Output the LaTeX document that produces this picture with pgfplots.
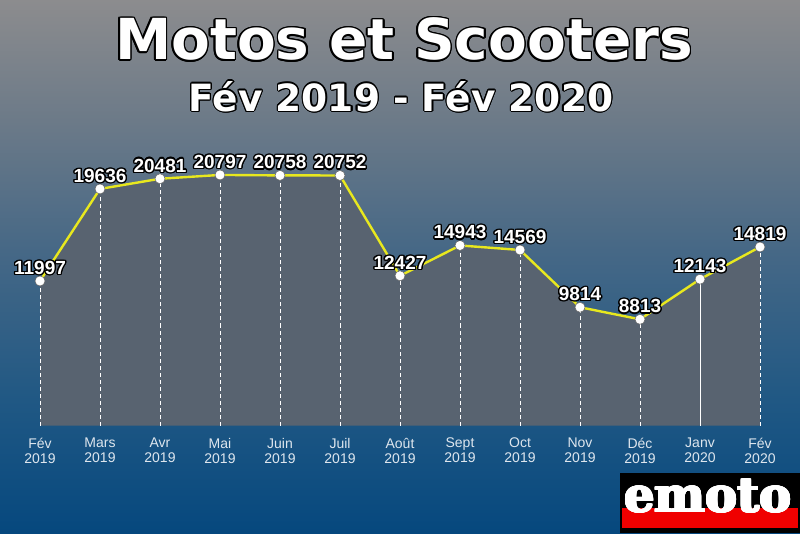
\documentclass[border=0pt]{standalone}
\usepackage{pgfplots}
\pgfplotsset{compat=1.18}
\usepackage{pgfplotstable}
\usepackage{fontspec}
\usepackage{contour}
\setmainfont{Liberation Sans}
\newfontfamily\djsans{DejaVu Sans}
\newfontfamily\djserif{DejaVu Serif}
\newfontfamily\libsans{Liberation Sans}
\definecolor{bgtop}{RGB}{140,140,142}
\definecolor{bgm1}{RGB}{108,122,136}
\definecolor{bgm2}{RGB}{70,104,134}
\definecolor{bgm3}{RGB}{32,88,132}
\definecolor{bgbot}{RGB}{6,72,126}
\definecolor{areagray}{RGB}{88,99,112}
\definecolor{lineyellow}{RGB}{232,232,30}
\definecolor{ticklab}{RGB}{222,230,238}
\definecolor{logored}{RGB}{240,0,0}
\pgfdeclareverticalshading{bgshade}{100bp}{color(0bp)=(bgbot); color(25bp)=(bgbot); color(37.5bp)=(bgm3); color(51.5bp)=(bgm2); color(63.7bp)=(bgm1); color(75bp)=(bgtop); color(100bp)=(bgtop)}
\pgfplotstableread{
x y lbl
0 11997 11997
1 19636 19636
2 20481 20481
3 20797 20797
4 20758 20758
5 20752 20752
6 12427 12427
7 14943 14943
8 14569 14569
9 9814 9814
10 8813 8813
11 12143 12143
12 14819 14819
}\data
\begin{document}
\begin{tikzpicture}[x=1pt,y=1pt]
\shade[shading=bgshade] (0,0) rectangle (800,533);
\contourlength{1.3pt}
\begin{axis}[at={(40pt,107.5pt)}, anchor=south west, scale only axis,
  width=720pt, height=361.45pt, xmin=0, xmax=12, ymin=0, ymax=30000,
  axis line style={draw=none}, major tick length=0pt, ytick=\empty,
  xtick={0,...,12},
  xticklabels={{Fév\\2019},{Mars\\2019},{Avr\\2019},{Mai\\2019},{Juin\\2019},{Juil\\2019},{Août\\2019},{Sept\\2019},{Oct\\2019},{Nov\\2019},{Déc\\2019},{Janv\\2020},{Fév\\2020}},
  xticklabel style={align=center, font=\libsans\fontsize{14}{15}\selectfont, text=ticklab, yshift=-9pt},
  clip=false]
\addplot[fill=areagray, draw=none] table[x=x,y=y] {\data} \closedcycle;
\addplot[ycomb, white, line width=0.7pt, dash pattern=on 4pt off 3pt] coordinates {(0,11997) (1,19636) (2,20481) (3,20797) (4,20758) (5,20752) (6,12427) (7,14943) (8,14569) (9,9814) (10,8813) (12,14819)};
\addplot[ycomb, white, line width=0.8pt] coordinates {(11,12143)};
\addplot[lineyellow, line width=2.4pt, mark=*, mark size=5pt,
  mark options={fill=white, draw=black!60, line width=0.5pt},
  point meta=explicit symbolic,
  nodes near coords={\contour{black}{\pgfplotspointmeta}},
  nodes near coords style={font=\libsans\bfseries\fontsize{19}{19}\selectfont, text=white, anchor=south, yshift=1.5pt}]
  table[x=x,y=y,meta=lbl] {\data};
\end{axis}
\contourlength{1.6pt}
\node[text=white, font=\djsans\bfseries\fontsize{56.5}{60}\selectfont] at (404,493) {\contour{black}{Motos et Scooters}};
\contourlength{1.2pt}
\node[text=white, font=\djsans\bfseries\fontsize{37.5}{40}\selectfont] at (401,436) {\contour{black}{Fév 2019 - Fév 2020}};
\fill[black] (620,0) rectangle (800,60);
\fill[logored] (622,5) rectangle (798,25);
\contourlength{0.9pt}
\node[text=white, font=\djserif\bfseries\fontsize{48}{48}\selectfont, anchor=base, inner sep=0pt] at (708,21) {\contour{white}{emoto}};
\end{tikzpicture}
\end{document}
